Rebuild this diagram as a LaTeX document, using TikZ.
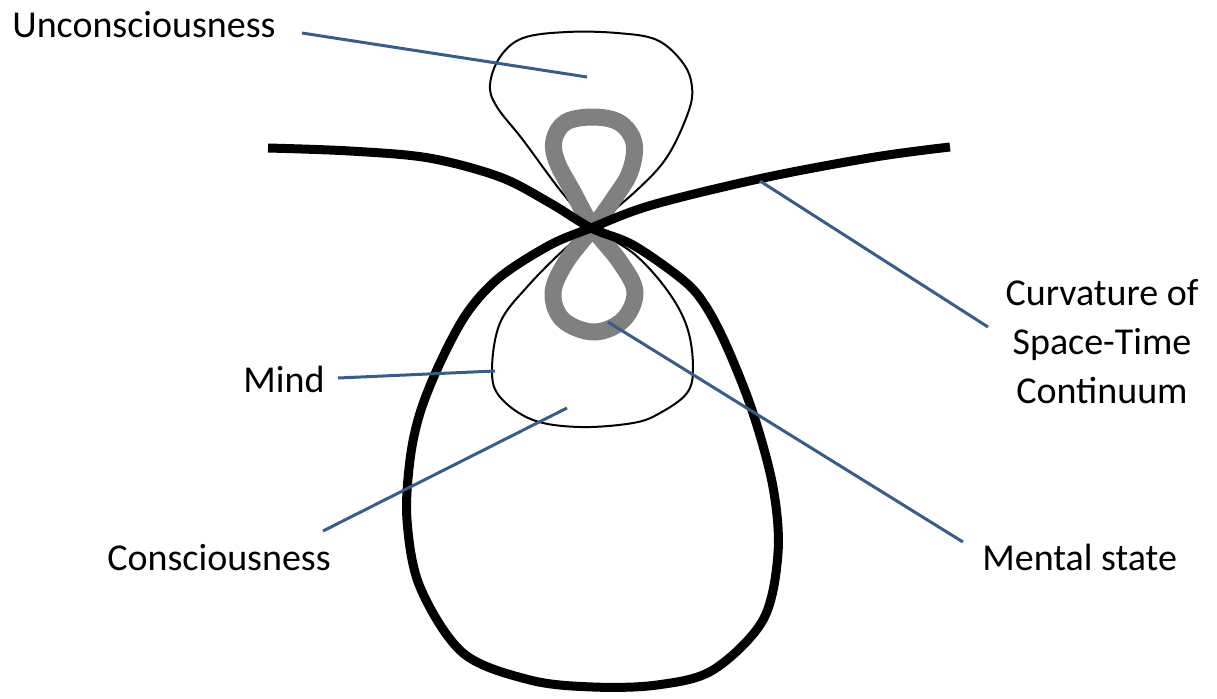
\documentclass[tikz,border=0pt]{standalone}
\usepackage{fontspec}
\setmainfont{Carlito}
\definecolor{pointerblue}{HTML}{385D8A}
\definecolor{loopgray}{HTML}{808080}
\begin{document}
\begin{tikzpicture}[x=0.5pt, y=-0.5pt,
    labeltext/.style={font=\fontsize{19}{24.5}\selectfont, inner sep=0pt},
    pointer/.style={pointerblue, line width=1.5pt},
    lobe/.style={black, line width=1pt, line join=round},
    spacetime/.style={black, line width=4.5pt, line join=round},
    eight/.style={loopgray, line width=8.5pt, line cap=round, line join=round}]
    \useasboundingbox (0,0) rectangle (1217,698);

    % 无意识与心智两个细线叶片
    \draw[lobe] plot[smooth, tension=0.6] coordinates {(592,228) (560,190) (523,140) (497,107) (490,85) (500,57) (523,38) (567,32) (617,33) (657,40) (683,63) (692,87) (688,113) (667,157) (637,190) (592,228)};
    \draw[lobe] plot[smooth, tension=0.6] coordinates {(593,230) (567,247) (527,287) (500,323) (492,370) (500,397) (533,420) (580,427) (633,423) (660,413) (687,393) (693,367) (687,327) (667,290) (633,253) (593,230)};

    % 灰色 8 字（心理状态）
    \draw[eight] plot[smooth, tension=0.6] coordinates {(593,228) (613,200) (630,172) (634,143) (620,123) (594,117) (566,122) (554,140) (557,162) (573,192) (593,228) (620,262) (635,292) (623,320) (594,332) (563,320) (553,293) (566,262) (593,228)};

    % 时空弯曲粗线（含下方的大蛋形）
    \draw[spacetime] plot[smooth, tension=0.55] coordinates {(268,148) (350,151) (429,158) (500,177) (550,203) (591,228) (633,245) (683,280) (705,305) (727,347) (753,413) (773,487) (778,553) (763,620) (713,670) (657,685) (593,687) (530,680) (463,653) (420,587) (407,520) (410,460) (420,413) (440,363) (467,313) (500,277) (550,245) (591,228) (652,205) (763,178) (875,157) (950,147)};

    % 标签
    \node[labeltext, anchor=base west] (unc) at (12,37) {Unconsciousness};
    \node[labeltext, anchor=base west] (mind) at (243,392) {Mind};
    \node[labeltext, anchor=base west] (cons) at (107,570) {Consciousness};
    \node[labeltext, anchor=base west] (mental) at (982,570) {Mental state};
    \node[labeltext, align=center] (curv) at (1102,342) {Curvature of\\Space-Time\\Continuum};

    % 指示线端点
    \coordinate (uncFoot) at (302,33);
    \coordinate (uncTip) at (587,77);
    \coordinate (curvFoot) at (988,327);
    \coordinate (curvTip) at (760,181);
    \coordinate (mindFoot) at (338,378);
    \coordinate (mindTip) at (495,371);
    \coordinate (consFoot) at (323,531);
    \coordinate (consTip) at (567,408);
    \coordinate (mentalFoot) at (963,542);
    \coordinate (mentalTip) at (608,322);

    % 指示线
    \draw[pointer] (uncFoot) -- (uncTip);
    \draw[pointer] (curvFoot) -- (curvTip);
    \draw[pointer] (mindFoot) -- (mindTip);
    \draw[pointer] (consFoot) -- (consTip);
    \draw[pointer] (mentalFoot) -- (mentalTip);
\end{tikzpicture}
\end{document}
